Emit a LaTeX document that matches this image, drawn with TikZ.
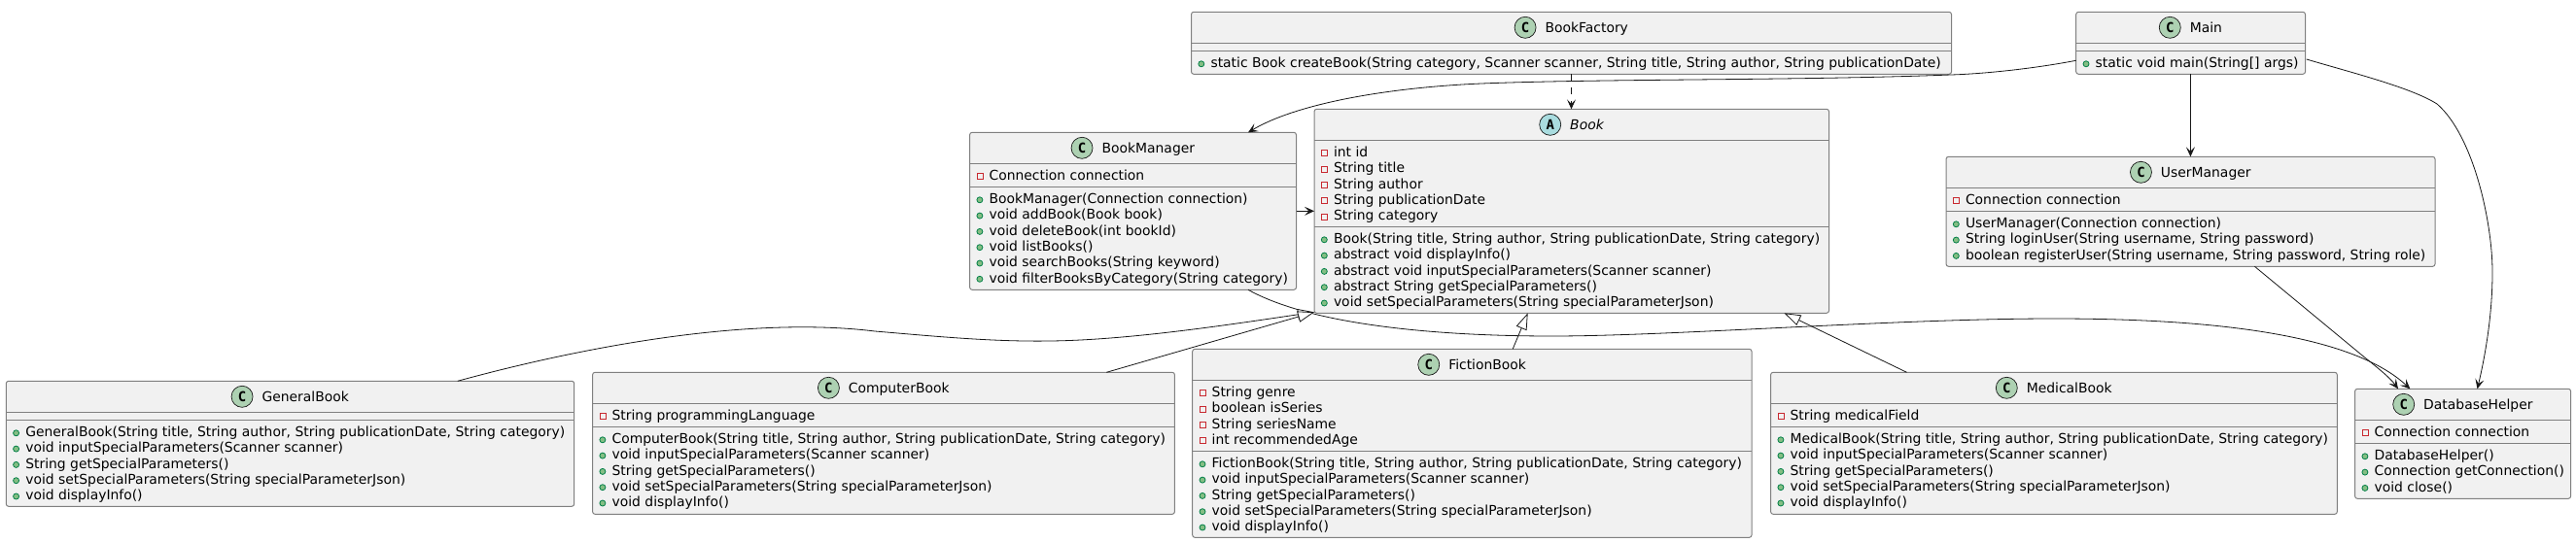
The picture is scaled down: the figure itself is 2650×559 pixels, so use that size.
\documentclass[tikz,border=0pt]{standalone}
\usepackage{fontspec}
\setmainfont{DejaVu Sans}
\newfontfamily\iconfont{DejaVu Sans Mono}
\usetikzlibrary{arrows.meta}
\definecolor{boxbg}{HTML}{F1F1F1}
\definecolor{ink}{HTML}{181818}
\definecolor{edgegray}{HTML}{808080}
\definecolor{ciconbg}{HTML}{ADD1B2}
\definecolor{aiconbg}{HTML}{A9DCDF}
\definecolor{pubfill}{HTML}{84BE84}
\definecolor{publine}{HTML}{038048}
\definecolor{privline}{HTML}{C82930}
\newcommand{\txtfont}{\fontsize{13.9}{16}\selectfont}
\tikzset{
  classbox/.style={draw=edgegray,line width=1pt,fill=boxbg,rounded corners=2.5pt,inner sep=0pt,outer sep=0pt,anchor=north west},
  sepline/.style={draw=edgegray,line width=1pt},
  iconmark/.style={circle,draw=ink,line width=.7pt,minimum size=22pt,inner sep=0pt,font=\iconfont\bfseries\fontsize{14}{14}\selectfont},
  titletext/.style={anchor=base,inner sep=0pt,outer sep=0pt,font=\txtfont,text=black},
  rowtext/.style={anchor=base west,inner sep=0pt,outer sep=0pt,font=\txtfont,text=black},
  pubmark/.style={circle,draw=publine,fill=pubfill,line width=.8pt,minimum size=6pt,inner sep=0pt},
  privmark/.style={rectangle,draw=privline,fill=boxbg,line width=.8pt,minimum size=6pt,inner sep=0pt},
  link/.style={draw=ink,line width=.8pt},
  opentip/.style={-{Stealth[length=10pt,width=9pt,inset=4.5pt]}},
  hollowtip/.style={-{Triangle[open,fill=white,length=17pt,width=11.5pt]}},
}
\newcount\rowno
\newcommand{\umlbox}[7]{%
  \def\cid{#1}\def\cL{#2}\def\cT{#3}\def\cR{#4}\def\cH{#6}\def\cS{#7}\rowno=0
  \pgfmathsetmacro\cW{#4-#2}\pgfmathsetmacro\cHt{#5-#3}
  \node[classbox,minimum width=\cW pt,minimum height=\cHt pt] (#1) at (#2,#3) {};
  \draw[sepline] (#1.west |- 0,#6) -- (#1.east |- 0,#6);
  \draw[sepline] (#1.west |- 0,#7) -- (#1.east |- 0,#7);
  \pgfmathsetmacro\cY{#6+17.3}}
\newcommand{\umltitle}[3]{%
  \pgfmathsetmacro\tx{(\cL+\cR)/2+15.75}
  \pgfmathsetmacro\iy{\cT+16}
  \pgfmathsetmacro\ty{\cT+21}
  \node[titletext] (\cid-title) at (\tx,\ty) {#3};
  \node[iconmark,fill=#2] (\cid-icon) at ([xshift=-20.5pt]\cid-title.west |- 0,\iy) {#1};}
\newcommand{\umlrow}[2]{%
  \advance\rowno by 1
  \pgfmathsetmacro\mx{\cL+10.3}\pgfmathsetmacro\my{\cY-3.8}\pgfmathsetmacro\rx{\cL+20}
  \node[#1] (\cid-m\the\rowno) at (\mx,\my) {};
  \node[rowtext] (\cid-t\the\rowno) at (\rx,\cY) {#2};
  \pgfmathsetmacro\cY{\cY+16.3}}
\newcommand{\fld}[1]{\umlrow{privmark}{#1}}
\newcommand{\mth}[1]{\umlrow{pubmark}{#1}}
\newcommand{\methods}{\pgfmathsetmacro\cY{\cS+17.3}}
\begin{document}
\begin{tikzpicture}[x=1pt,y=-1pt]
\useasboundingbox (0,0) rectangle (2650,559);
\fill[white] (0,0) rectangle (2650,559);

\umlbox{bf}{1225.5}{12.3}{2007.5}{76.3}{44.3}{52.3}
\umltitle{C}{ciconbg}{BookFactory}
\methods
\mth{static Book createBook(String category, Scanner scanner, String title, String author, String publicationDate)}

\umlbox{mn}{2135.7}{12.3}{2371.5}{76.3}{44.3}{52.3}
\umltitle{C}{ciconbg}{Main}
\methods
\mth{static void main(String[] args)}

\umlbox{um}{2002}{161.3}{2505}{274.3}{193.3}{217.3}
\umltitle{C}{ciconbg}{UserManager}
\fld{Connection connection}
\methods
\mth{UserManager(Connection connection)}
\mth{String loginUser(String username, String password)}
\mth{boolean registerUser(String username, String password, String role)}

\umlbox{bk}{1352}{112.3}{1881.5}{322.3}{144.3}{233.3}
\umltitle{A}{aiconbg}{\itshape Book}
\fld{int id}
\fld{String title}
\fld{String author}
\fld{String publicationDate}
\fld{String category}
\methods
\mth{Book(String title, String author, String publicationDate, String category)}
\mth{abstract void displayInfo()}
\mth{abstract void inputSpecialParameters(Scanner scanner)}
\mth{abstract String getSpecialParameters()}
\mth{void setSpecialParameters(String specialParameterJson)}

\umlbox{bm}{997.6}{136.3}{1333.5}{298.3}{168.3}{192.3}
\umltitle{C}{ciconbg}{BookManager}
\fld{Connection connection}
\methods
\mth{BookManager(Connection connection)}
\mth{void addBook(Book book)}
\mth{void deleteBook(int bookId)}
\mth{void listBooks()}
\mth{void searchBooks(String keyword)}
\mth{void filterBooksByCategory(String category)}

\umlbox{gb}{6.3}{392.3}{590.7}{521.3}{424.3}{432.3}
\umltitle{C}{ciconbg}{GeneralBook}
\methods
\mth{GeneralBook(String title, String author, String publicationDate, String category)}
\mth{void inputSpecialParameters(Scanner scanner)}
\mth{String getSpecialParameters()}
\mth{void setSpecialParameters(String specialParameterJson)}
\mth{void displayInfo()}

\umlbox{cb}{609.6}{383.3}{1208.4}{529.3}{415.3}{439.3}
\umltitle{C}{ciconbg}{ComputerBook}
\fld{String programmingLanguage}
\methods
\mth{ComputerBook(String title, String author, String publicationDate, String category)}
\mth{void inputSpecialParameters(Scanner scanner)}
\mth{String getSpecialParameters()}
\mth{void setSpecialParameters(String specialParameterJson)}
\mth{void displayInfo()}

\umlbox{fb}{1226.7}{359.3}{1802}{553.3}{391.3}{464.3}
\umltitle{C}{ciconbg}{FictionBook}
\fld{String genre}
\fld{boolean isSeries}
\fld{String seriesName}
\fld{int recommendedAge}
\methods
\mth{FictionBook(String title, String author, String publicationDate, String category)}
\mth{void inputSpecialParameters(Scanner scanner)}
\mth{String getSpecialParameters()}
\mth{void setSpecialParameters(String specialParameterJson)}
\mth{void displayInfo()}

\umlbox{md}{1821.6}{383.3}{2404.3}{529.3}{415.3}{439.3}
\umltitle{C}{ciconbg}{MedicalBook}
\fld{String medicalField}
\methods
\mth{MedicalBook(String title, String author, String publicationDate, String category)}
\mth{void inputSpecialParameters(Scanner scanner)}
\mth{String getSpecialParameters()}
\mth{void setSpecialParameters(String specialParameterJson)}
\mth{void displayInfo()}

\umlbox{db}{2422.6}{400.3}{2644.6}{513.3}{432.3}{456.3}
\umltitle{C}{ciconbg}{DatabaseHelper}
\fld{Connection connection}
\methods
\mth{DatabaseHelper()}
\mth{Connection getConnection()}
\mth{void close()}

% connectors
\draw[link,opentip] ([shift={(0,50)}]mn.north west) .. controls (2090,71) and (2040,76) .. (2007,77) .. controls (1850,83) and (1650,81) .. (1524,86) .. controls (1430,90) and (1335,106) .. ([shift={(286.4,0)}]bm.north west);
\draw[link,opentip,dash pattern=on 7pt off 7pt] ([shift={(391,0)}]bf.south west) -- ([shift={(264.5,0)}]bk.north west);
\draw[link,opentip] ([shift={(117.7,0)}]mn.south west) -- ([shift={(251.4,0)}]um.north west);
\draw[link,opentip] ([shift={(1.2,48.7)}]mn.north east) .. controls (2420,75) and (2480,90) .. (2507,107) .. controls (2545,140) and (2564,230) .. (2564,280) .. controls (2564,320) and (2558,360) .. ([shift={(125.9,0)}]db.north west);
\draw[link,opentip] ([shift={(317.4,0)}]um.south west) -- (2429,365) .. controls (2445,378) and (2458,388) .. ([shift={(44.4,0)}]db.north west);
\draw[link,opentip] ([shift={(0,81)}]bm.north east) -- ([shift={(0,105)}]bk.north west);
\draw[link,opentip] ([shift={(286.4,0)}]bm.south west) .. controls (1350,335) and (1480,346) .. (1597,346) .. controls (1720,346) and (1950,328) .. (2113,328) .. controls (2280,328) and (2420,345) .. ([shift={(56.7,0)}]db.north west);
\draw[link,hollowtip] ([shift={(464.4,0)}]gb.north west) .. controls (600,357) and (770,325) .. (900,341) .. controls (960,346) and (1020,352) .. (1081,351) .. controls (1160,350) and (1260,335) .. ([yshift=1pt]bk.south west);
\draw[link,hollowtip] ([shift={(528.7,0)}]cb.north west) -- ([yshift=1pt]bk.south west);
\draw[link,hollowtip] ([shift={(329.5,0)}]fb.north west) -- ([shift={(219.7,0)}]bk.south west);
\draw[link,hollowtip] ([shift={(139.9,0)}]md.north west) -- ([shift={(483.5,0)}]bk.south west);
\end{tikzpicture}
\end{document}
